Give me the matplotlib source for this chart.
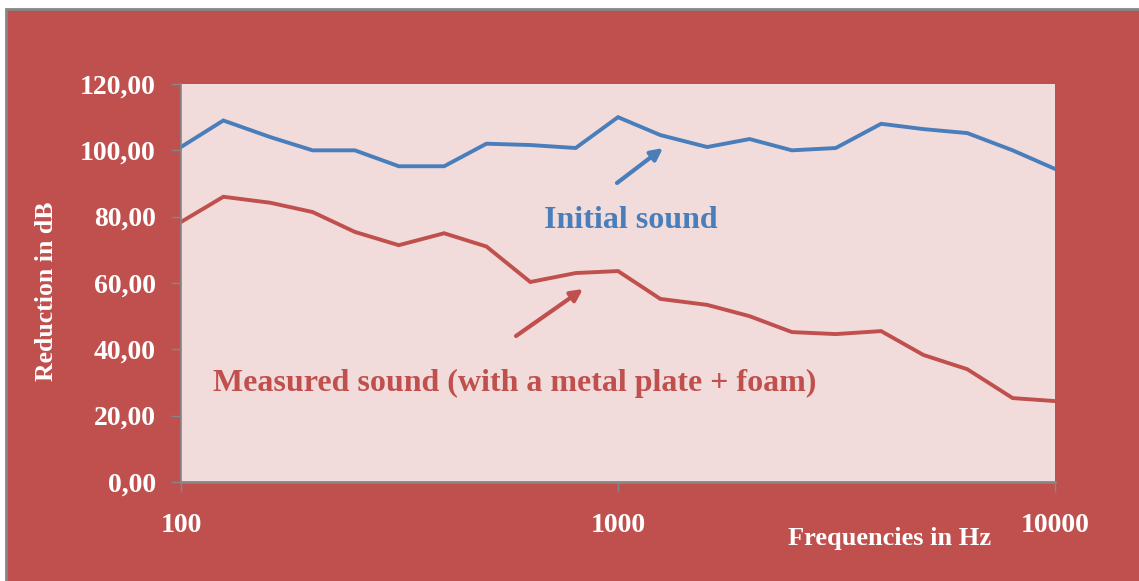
import matplotlib
matplotlib.use("Agg")
import matplotlib.pyplot as plt
from matplotlib.patches import Rectangle
from matplotlib.ticker import FixedLocator, NullLocator

# third-octave centre frequencies (Hz)
freqs = [100, 125, 160, 200, 250, 315, 400, 500, 630, 800, 1000,
         1250, 1600, 2000, 2500, 3150, 4000, 5000, 6300, 8000, 10000]
initial_db = [101.0, 109.0, 104.0, 100.0, 100.0, 95.2, 95.2, 102.0, 101.6, 100.7, 110.0,
              104.6, 101.0, 103.4, 100.0, 100.7, 108.0, 106.4, 105.2, 100.0, 94.4]
measured_db = [78.4, 86.0, 84.2, 81.4, 75.4, 71.4, 75.0, 71.0, 60.3, 63.0, 63.6,
               55.2, 53.4, 50.0, 45.2, 44.6, 45.5, 38.3, 34.0, 25.3, 24.4]
y_ticks = [0, 20, 40, 60, 80, 100, 120]
x_ticks = [100, 1000, 10000]

RED = "#C0504D"
BLUE = "#4A7EBB"
PLOT_BG = "#F2DCDB"
GREY = "#868686"
SERIF = ["Liberation Serif", "DejaVu Serif"]

W, H = 1139, 581
fig = plt.figure(figsize=(W / 100, H / 100), dpi=100)
fig.patch.set_facecolor("white")
# red chart panel with grey frame
fig.patches.append(Rectangle((6 / W, -0.05), 1.1, 1 - 9 / H + 0.05,
                             transform=fig.transFigure, facecolor=RED,
                             edgecolor=GREY, linewidth=2, zorder=-10))

ax = fig.add_axes([181 / W, 1 - 482 / H, (1055 - 181) / W, (482 - 84) / H])
ax.set_facecolor(PLOT_BG)

ax.plot(freqs, initial_db, color=BLUE, linewidth=2.8, solid_joinstyle="miter")
ax.plot(freqs, measured_db, color=RED, linewidth=2.8, solid_joinstyle="miter")

ax.set_xscale("log")
ax.set_xlim(100, 10000)
ax.set_ylim(0, 120)
ax.xaxis.set_major_locator(FixedLocator(x_ticks))
ax.xaxis.set_minor_locator(NullLocator())
ax.set_xticklabels([str(t) for t in x_ticks])
ax.set_yticks(y_ticks)
ax.set_yticklabels([f"{t:.2f}".replace(".", ",") for t in y_ticks])

for s in ("top", "right"):
    ax.spines[s].set_visible(False)
for s in ("left", "bottom"):
    ax.spines[s].set_color(GREY)
    ax.spines[s].set_linewidth(1.2)
ax.spines["bottom"].set_linewidth(2)

ax.tick_params(axis="both", which="major", direction="out", color=GREY,
               length=7, width=1, labelcolor="white")
ax.tick_params(axis="y", pad=11)
ax.tick_params(axis="x", pad=15)
for lab in ax.get_xticklabels() + ax.get_yticklabels():
    lab.set_family(SERIF)
    lab.set_fontweight("bold")
    lab.set_fontsize(20)

ax.set_ylabel("Reduction in dB", family=SERIF, fontweight="bold",
              fontsize=18.5, color="white")
ax.yaxis.set_label_coords(-0.141, 0.48)
fig.text(890 / W, 1 - 538 / H, "Frequencies in Hz", family=SERIF,
         fontweight="bold", fontsize=19, color="white", ha="center", va="center")

# annotations
ax.text((631 - 181) / (1055 - 181), (482 - 221) / 398, "Initial sound",
        transform=ax.transAxes, color=BLUE, family=SERIF, fontweight="bold",
        fontsize=23, ha="center", va="center")
ax.text((515 - 181) / (1055 - 181), (482 - 383) / 398,
        "Measured sound (with a metal plate + foam)",
        transform=ax.transAxes, color=RED, family=SERIF, fontweight="bold",
        fontsize=23, ha="center", va="center")

arrow = dict(arrowstyle="-|>,head_length=0.7,head_width=0.35", linewidth=3,
             shrinkA=0, shrinkB=0)
ax.annotate("", xy=((663 - 181) / 874, (482 - 148) / 398),
            xytext=((617 - 181) / 874, (482 - 183) / 398),
            xycoords="axes fraction", textcoords="axes fraction",
            arrowprops=dict(arrow, color=BLUE))
ax.annotate("", xy=((583 - 181) / 874, (482 - 289) / 398),
            xytext=((516 - 181) / 874, (482 - 336) / 398),
            xycoords="axes fraction", textcoords="axes fraction",
            arrowprops=dict(arrow, color=RED))

fig.savefig("out.png", dpi=100)
